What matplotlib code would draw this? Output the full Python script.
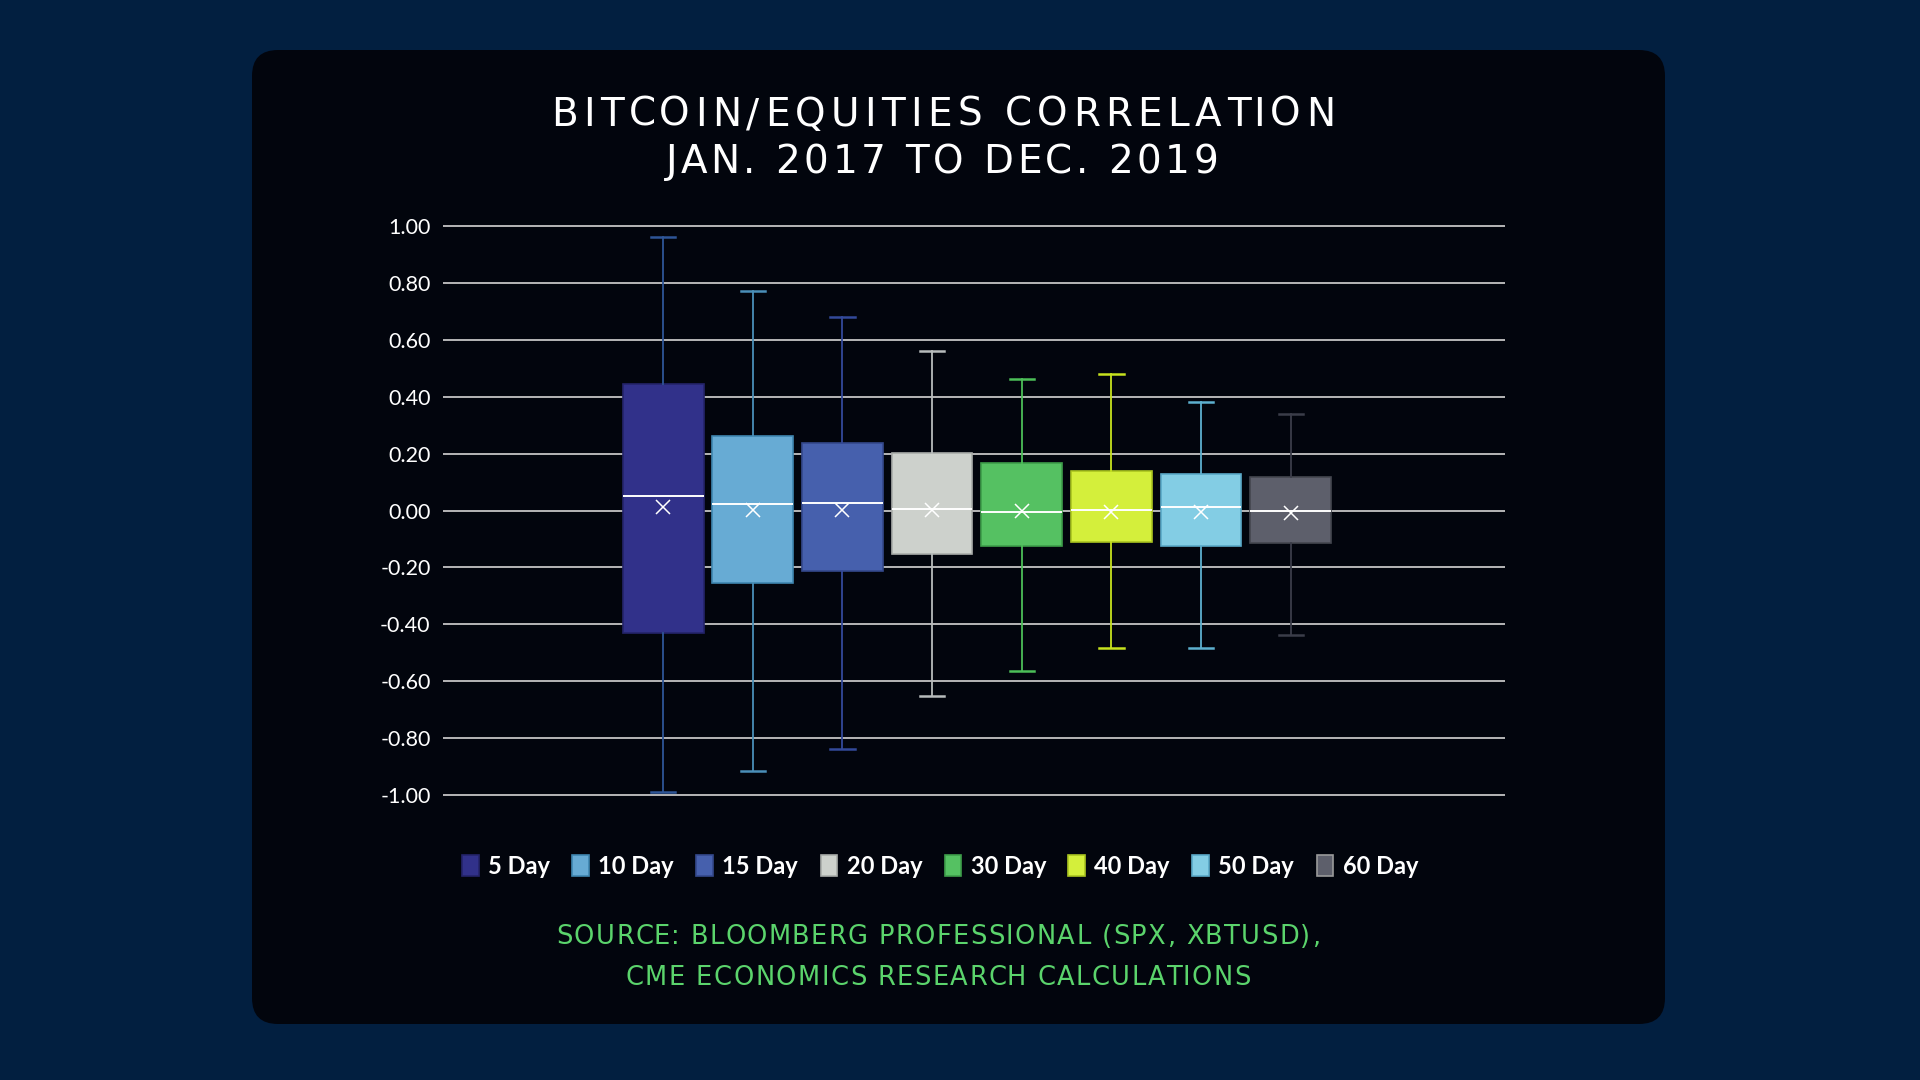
import matplotlib
matplotlib.use("Agg")
import matplotlib.pyplot as plt
from matplotlib.patches import FancyBboxPatch, Patch
from matplotlib.ticker import FuncFormatter

# Daten: Korrelation Bitcoin/Aktien je Fensterlänge
labels = ["5 Day", "10 Day", "15 Day", "20 Day", "30 Day", "40 Day", "50 Day", "60 Day"]
whis_hi = [0.962, 0.772, 0.681, 0.561, 0.463, 0.479, 0.380, 0.338]
q3 = [0.446, 0.261, 0.236, 0.202, 0.166, 0.139, 0.129, 0.119]
median = [0.051, 0.023, 0.027, 0.006, -0.006, 0.002, 0.012, -0.001]
mean = [0.014, 0.002, 0.002, 0.002, 0.000, -0.006, -0.006, -0.009]
q1 = [-0.429, -0.256, -0.214, -0.153, -0.125, -0.109, -0.126, -0.113]
whis_lo = [-0.989, -0.916, -0.838, -0.652, -0.565, -0.483, -0.483, -0.437]
yticks = [1.0, 0.8, 0.6, 0.4, 0.2, 0.0, -0.2, -0.4, -0.6, -0.8, -1.0]

box_colors = ["#31318a", "#67abd4", "#4660ad", "#cdd1cc", "#55c162", "#d4ef3b", "#83cde4", "#5d5f6b"]
edge_colors = ["#24246a", "#3f86b0", "#34498c", "#a9adaa", "#3e9e4a", "#aac420", "#5aa9c8", "#44464f"]
whisker_colors = ["#2e5597", "#4a8fb8", "#33499a", "#b8bcbc", "#4cbf58", "#c7e31e", "#5db0cf", "#3b3d49"]

BG = "#021f40"
CARD = "#02050d"
GREEN = "#5bd46c"

fig = plt.figure(figsize=(19.2, 10.8), dpi=100)
fig.patch.set_facecolor(BG)

# Hintergrund-Achse in Pixelkoordinaten für die Karte
bg = fig.add_axes([0, 0, 1, 1])
bg.set_xlim(0, 1920)
bg.set_ylim(1080, 0)
bg.axis("off")
card = FancyBboxPatch((252, 50), 1413, 974, boxstyle="round,pad=0,rounding_size=26",
                      facecolor=CARD, edgecolor="none")
bg.add_patch(card)

renderer = fig.canvas.get_renderer()


def text_width(s, size, family):
    t = bg.text(0, 0, s, fontsize=size, family=family)
    w = t.get_window_extent(renderer).width
    t.remove()
    return w


def spaced_text(cx, cy, s, size, color, family="DejaVu Sans", tracking=0.0):
    # Text mit Buchstabenabstand (Pixel), zentriert auf cx/cy in Pixelkoordinaten
    base = text_width("I", size, family)
    xs = [text_width(s[:k] + "I", size, family) - base + tracking * k for k in range(len(s))]
    total = text_width(s, size, family) + tracking * (len(s) - 1)
    x0 = cx - total / 2
    for k, ch in enumerate(s):
        if ch != " ":
            bg.text(x0 + xs[k], cy, ch, fontsize=size, family=family, color=color,
                    ha="left", va="center")


# Titel
spaced_text(943, 115, "BITCOIN/EQUITIES CORRELATION", 28, "white", tracking=5.3)
spaced_text(942, 162, "JAN. 2017 TO DEC. 2019", 28, "white", tracking=3.7)

# Boxplot-Achse
ax = fig.add_axes([443 / 1920, 0.2507, 1062 / 1920, 0.5532])
ax.set_facecolor("none")

stats = []
for i in range(len(labels)):
    stats.append({"label": labels[i], "whislo": whis_lo[i], "q1": q1[i], "med": median[i],
                  "q3": q3[i], "whishi": whis_hi[i], "mean": mean[i], "fliers": []})

positions = list(range(1, len(labels) + 1))
bp = ax.bxp(stats, positions=positions, widths=0.9, capwidths=0.27, patch_artist=True,
            showmeans=True, showfliers=False, zorder=3,
            medianprops=dict(color="white", lw=1.4),
            meanprops=dict(marker="x", markeredgecolor="white", markersize=10, markeredgewidth=1.1))

for i in range(len(labels)):
    bp["boxes"][i].set_facecolor(box_colors[i])
    bp["boxes"][i].set_edgecolor(edge_colors[i])
    bp["boxes"][i].set_linewidth(1.2)
    for w in bp["whiskers"][2 * i:2 * i + 2]:
        w.set_color(whisker_colors[i])
        w.set_linewidth(1.3)
    for c in bp["caps"][2 * i:2 * i + 2]:
        c.set_color(whisker_colors[i])
        c.set_linewidth(1.8)

ax.set_xlim(-1.456, 10.39)
ax.set_ylim(-1.05, 1.05)
ax.set_yticks(yticks)
ax.yaxis.set_major_formatter(FuncFormatter(lambda v, p: f"{v:.2f}".replace("\u2212", "-")))
ax.set_xticks([])
ax.tick_params(axis="y", length=0, pad=9, labelcolor="white", labelsize=15.5)
for t in ax.get_yticklabels():
    t.set_family("Lato")
ax.grid(axis="y", color="#c4c4c4", lw=1.3, zorder=0)
ax.set_axisbelow(True)
for s in ax.spines.values():
    s.set_visible(False)

# Legende
handles = [Patch(facecolor=box_colors[i], edgecolor="#9a9a9a" if i == 7 else edge_colors[i],
                 lw=1.2, label=labels[i]) for i in range(len(labels))]
leg = fig.legend(handles=handles, loc="center", bbox_to_anchor=(940 / 1920, 1 - 866 / 1080),
                 ncol=8, frameon=False, handlelength=0.7, handleheight=0.95,
                 handletextpad=0.4, columnspacing=0.95,
                 prop={"family": "Lato", "weight": "bold", "size": 17})
for t in leg.get_texts():
    t.set_color("white")

# Quelle
spaced_text(938, 937, "SOURCE: BLOOMBERG PROFESSIONAL (SPX, XBTUSD),", 18.5, GREEN, tracking=1.4)
spaced_text(938, 978, "CME ECONOMICS RESEARCH CALCULATIONS", 18.5, GREEN, tracking=1.5)

fig.savefig("out.png", dpi=100, facecolor=BG)
